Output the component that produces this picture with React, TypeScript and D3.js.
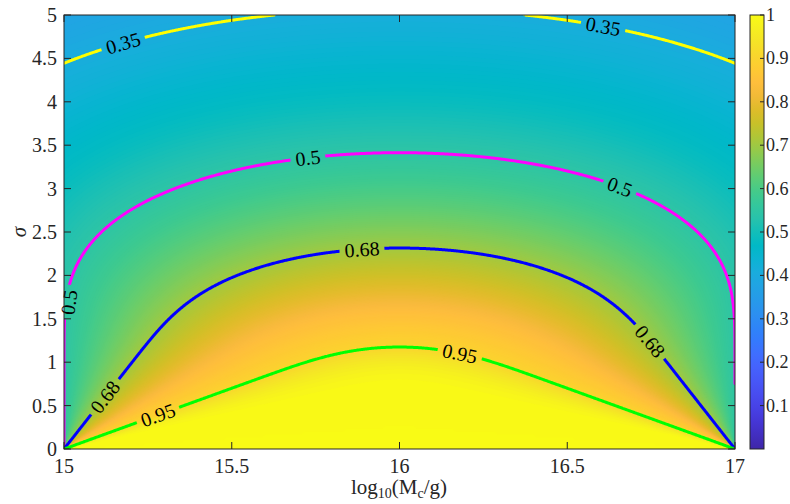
import React, { useMemo } from "react";
import * as d3 from "d3";

// ---- axes / ticks ----
const X_RANGE: [number, number] = [15, 17];
const SIGMA_RANGE: [number, number] = [0, 5];
const X_TICKS = [15, 15.5, 16, 16.5, 17];
const Y_TICKS = [0, 0.5, 1, 1.5, 2, 2.5, 3, 3.5, 4, 4.5, 5];
const CB_RANGE: [number, number] = [0, 1];
const CB_TICKS = [0.1, 0.2, 0.3, 0.4, 0.5, 0.6, 0.7, 0.8, 0.9, 1];

// ---- model: fraction of a lognormal mass function inside the window ----
const MASS_WINDOW: [number, number] = [15, 17]; // log10(M/g)

// ---- contour levels ----
const CONTOUR_LEVELS = [0.35, 0.5, 0.68, 0.95];
const CONTOUR_COLORS = ["#ffff00", "#ff00ff", "#0000ff", "#00ff00"];

// ---- contour labels (level, anchor in data coords) ----
const LABEL_LEVELS = [0.35, 0.35, 0.5, 0.5, 0.5, 0.68, 0.68, 0.68, 0.95, 0.95];
const LABEL_X: (number | null)[] = [15.176, 16.607, 15.727, 16.657, null, 15.888, 15.122, 16.747, 15.28, 16.18];
const LABEL_SIGMA: (number | null)[] = [null, null, null, null, 1.69, null, null, null, null, null];

// colour response of the shaded field (value -> colormap position)
const SHADE_IN = [0, 0.36, 0.56, 0.7, 0.85, 0.95, 1];
const SHADE_OUT = [0, 0.42, 0.6, 0.72, 0.84, 0.9, 1];

// parula colormap (64 entries)
const PARULA: number[][] = [
  [0.2422, 0.1504, 0.6603], [0.2504, 0.165, 0.7076], [0.2578, 0.1818, 0.7511], [0.2647, 0.1978, 0.7952],
  [0.2706, 0.2147, 0.8364], [0.2751, 0.2342, 0.871], [0.2783, 0.2559, 0.8991], [0.2803, 0.2782, 0.9221],
  [0.2813, 0.3006, 0.9414], [0.281, 0.3228, 0.9579], [0.2795, 0.3447, 0.9717], [0.276, 0.3667, 0.9829],
  [0.2699, 0.3892, 0.9906], [0.2602, 0.4123, 0.9952], [0.244, 0.4358, 0.9988], [0.2206, 0.4603, 0.9973],
  [0.1963, 0.4847, 0.9892], [0.1834, 0.5074, 0.9798], [0.1786, 0.5289, 0.9682], [0.1764, 0.5499, 0.952],
  [0.1687, 0.5703, 0.9359], [0.154, 0.5902, 0.9218], [0.146, 0.6091, 0.9079], [0.138, 0.6276, 0.8973],
  [0.1248, 0.6459, 0.8883], [0.1113, 0.6635, 0.8763], [0.0952, 0.6798, 0.8598], [0.0689, 0.6948, 0.8394],
  [0.0297, 0.7082, 0.8163], [0.0036, 0.7203, 0.7917], [0.0067, 0.7312, 0.766], [0.0433, 0.7411, 0.7394],
  [0.0964, 0.75, 0.712], [0.1408, 0.7584, 0.6842], [0.1717, 0.767, 0.6554], [0.1938, 0.7758, 0.6251],
  [0.2161, 0.7843, 0.5923], [0.247, 0.7918, 0.5567], [0.2906, 0.7973, 0.5188], [0.3406, 0.8008, 0.4789],
  [0.3909, 0.8029, 0.4354], [0.4456, 0.8024, 0.3909], [0.5044, 0.7993, 0.348], [0.5616, 0.7942, 0.3045],
  [0.6174, 0.7876, 0.2612], [0.672, 0.7793, 0.2227], [0.7242, 0.7698, 0.191], [0.7738, 0.7598, 0.1646],
  [0.8203, 0.7498, 0.1535], [0.8634, 0.7406, 0.1596], [0.9035, 0.733, 0.1774], [0.9393, 0.7288, 0.21],
  [0.9728, 0.7298, 0.2394], [0.9956, 0.7434, 0.2371], [0.997, 0.7659, 0.2199], [0.9952, 0.7893, 0.2028],
  [0.9892, 0.8136, 0.1885], [0.9786, 0.8386, 0.1766], [0.9676, 0.8639, 0.1643], [0.961, 0.889, 0.1537],
  [0.9597, 0.9135, 0.1423], [0.9628, 0.9373, 0.1265], [0.9691, 0.9606, 0.1064], [0.9769, 0.9839, 0.0805],
];

function parula(t: number): string {
  const u = Math.max(0, Math.min(1, (t - CB_RANGE[0]) / (CB_RANGE[1] - CB_RANGE[0]))) * (PARULA.length - 1);
  const i = Math.min(PARULA.length - 2, Math.floor(u));
  const f = u - i;
  const a = PARULA[i], b = PARULA[i + 1];
  const c = [0, 1, 2].map((k) => Math.round(255 * (a[k] + (b[k] - a[k]) * f)));
  return `rgb(${c[0]},${c[1]},${c[2]})`;
}

function erf(x: number): number {
  const s = x < 0 ? -1 : 1;
  const ax = Math.abs(x);
  const t = 1 / (1 + 0.3275911 * ax);
  const y = 1 - ((((1.061405429 * t - 1.453152027) * t + 1.421413741) * t - 0.284496736) * t + 0.254829592) * t * Math.exp(-ax * ax);
  return s * y;
}
const Phi = (z: number) => 0.5 * (1 + erf(z / Math.SQRT2));

function frac(x: number, sigma: number): number {
  const [a, b] = MASS_WINDOW;
  if (sigma <= 0) return x > a && x < b ? 1 : x === a || x === b ? 0.5 : 0;
  const s = sigma / Math.LN10;
  return Phi((b - x) / s) - Phi((a - x) / s);
}

const W = 790, H = 504;
const L = 64, R = 735, T = 15, B = 449;
const FONT = "'Liberation Serif', 'Times New Roman', Times, serif";

export default function App() {
  const xs = d3.scaleLinear().domain(X_RANGE).range([L, R]);
  const ys = d3.scaleLinear().domain(SIGMA_RANGE).range([B, T]);
  const cbY = d3.scaleLinear().domain(CB_RANGE).range([B, T]);
  const shade = d3.scaleLinear().domain(SHADE_IN).range(SHADE_OUT).clamp(true);

  const computed = useMemo(() => {
    const [X0, X1] = X_RANGE;
    const [S0, S1] = SIGMA_RANGE;
    function grid(nx: number, ny: number) {
      const vals = new Float64Array(nx * ny);
      const dx = (X1 - X0) / (nx - 1), dy = (S1 - S0) / (ny - 1);
      for (let j = 0; j < ny; j++)
        for (let i = 0; i < nx; i++) vals[j * nx + i] = frac(X0 + i * dx, S0 + j * dy);
      return { vals, nx, ny, dx, dy };
    }
    // filled field
    const gf = grid(241, 151);
    const step = 0.004;
    const thresholds = d3.range(0, 1 + 1e-9, step);
    const pf = d3.geoPath(
      d3.geoTransform({
        point(x: number, y: number) {
          (this as any).stream.point(xs(X0 + (x - 0.5) * gf.dx), ys(S0 + (y - 0.5) * gf.dy));
        },
      })
    );
    const fills = d3.contours().size([gf.nx, gf.ny]).thresholds(thresholds)(Array.from(gf.vals));
    const bands = fills.map((c) => ({ d: pf(c as any) || "", color: parula(shade(Math.min(1, c.value + step / 2))) }));

    // contour lines
    const gl = grid(801, 501);
    const lc = d3.contours().size([gl.nx, gl.ny]).thresholds(CONTOUR_LEVELS)(Array.from(gl.vals));
    const px = (x: number) => xs(X0 + (x - 0.5) * gl.dx);
    const py = (y: number) => ys(S0 + (y - 0.5) * gl.dy);
    const onB = (a: number[], b: number[]) =>
      (a[0] === b[0] && (a[0] === 0 || a[0] === gl.nx)) || (a[1] === b[1] && (a[1] === 0 || a[1] === gl.ny));
    const lines = lc.map((c, idx) => {
      let d = "";
      for (const poly of c.coordinates)
        for (const ring of poly) {
          let pen = false;
          for (let k = 1; k < ring.length; k++) {
            const a = ring[k - 1], b = ring[k];
            if (onB(a, b)) { pen = false; continue; }
            if (!pen) { d += `M${px(a[0]).toFixed(2)},${py(a[1]).toFixed(2)}`; pen = true; }
            d += `L${px(b[0]).toFixed(2)},${py(b[1]).toFixed(2)}`;
          }
        }
      return { d, color: CONTOUR_COLORS[idx] };
    });

    // labels
    const labels = LABEL_LEVELS.map((lev, i) => {
      let x: number, s: number;
      if (LABEL_X[i] != null) {
        x = LABEL_X[i] as number;
        let lo = 1e-4, hi = 20;
        for (let k = 0; k < 80; k++) {
          const m = (lo + hi) / 2;
          if (frac(x, m) > lev) lo = m; else hi = m;
        }
        s = (lo + hi) / 2;
      } else {
        s = LABEL_SIGMA[i] as number;
        let lo = X0, hi = (X0 + X1) / 2;
        for (let k = 0; k < 80; k++) {
          const m = (lo + hi) / 2;
          if (frac(m, s) < lev) lo = m; else hi = m;
        }
        x = (lo + hi) / 2;
      }
      const h = 1e-4;
      const gx = (frac(x + h, s) - frac(x - h, s)) / (2 * h) / (xs(1) - xs(0));
      const gy = (frac(x, s + h) - frac(x, s - h)) / (2 * h) / (ys(1) - ys(0));
      let ang = (Math.atan2(gx, -gy) * 180) / Math.PI;
      while (ang >= 90) ang -= 180;
      while (ang < -90) ang += 180;
      const text = String(lev);
      const fs = 20;
      const tw = fs * (0.5 * (text.length - 1) + 0.25);
      let cx = xs(x), cy = ys(s);
      if (cx < L + 5) cx = L + 5;
      return { text, cx, cy, ang, tw, fs };
    });

    return { bands, lines, labels };
  }, []);

  const tickLen = 7;
  const axisColor = "#262626";

  return (
    <svg width={W} height={H} style={{ position: "absolute", left: 0, top: 0, background: "#fff", fontFamily: FONT }}>
      <defs>
        <clipPath id="plotClip">
          <rect x={L} y={T} width={R - L} height={B - T} />
        </clipPath>
        <mask id="gapMask" maskUnits="userSpaceOnUse" x={0} y={0} width={W} height={H}>
          <rect x={0} y={0} width={W} height={H} fill="white" />
          {computed.labels.map((l, i) => (
            <rect key={i} transform={`translate(${l.cx},${l.cy}) rotate(${l.ang})`} x={-l.tw / 2 - 5} y={-l.fs * 0.45} width={l.tw + 10} height={l.fs * 0.9} fill="black" />
          ))}
        </mask>
        <linearGradient id="cbGrad" x1="0" y1="1" x2="0" y2="0">
          {d3.range(0, 1.0001, 1 / 32).map((t, i) => (
            <stop key={i} offset={t} stopColor={parula(CB_RANGE[0] + t * (CB_RANGE[1] - CB_RANGE[0]))} />
          ))}
        </linearGradient>
      </defs>

      {/* field */}
      <g clipPath="url(#plotClip)">
        {computed.bands.map((b, i) => (
          <path key={i} d={b.d} fill={b.color} stroke="none" />
        ))}
      </g>

      {/* contour lines */}
      <g clipPath="url(#plotClip)">
        <g mask="url(#gapMask)">
          {computed.lines.map((l, i) => (
            <path key={i} d={l.d} fill="none" stroke={l.color} strokeWidth={3} strokeLinejoin="round" />
          ))}
        </g>
      </g>

      {/* contour labels */}
      {computed.labels.map((l, i) => (
        <text key={i} transform={`translate(${l.cx},${l.cy}) rotate(${l.ang})`} textAnchor="middle" dominantBaseline="central" fontSize={l.fs} fill="#000">
          {l.text}
        </text>
      ))}

      {/* axes box */}
      <rect x={L} y={T} width={R - L} height={B - T} fill="none" stroke={axisColor} strokeWidth={1} />
      {X_TICKS.map((t, i) => (
        <g key={"xt" + i}>
          <line x1={xs(t)} x2={xs(t)} y1={B} y2={B - tickLen} stroke={axisColor} />
          <line x1={xs(t)} x2={xs(t)} y1={T} y2={T + tickLen} stroke={axisColor} />
          <text x={xs(t)} y={473} textAnchor="middle" fontSize={20} fill={axisColor}>{String(t)}</text>
        </g>
      ))}
      {Y_TICKS.map((t, i) => (
        <g key={"yt" + i}>
          <line x1={L} x2={L + tickLen} y1={ys(t)} y2={ys(t)} stroke={axisColor} />
          <line x1={R} x2={R - tickLen} y1={ys(t)} y2={ys(t)} stroke={axisColor} />
          <text x={57} y={ys(t)} textAnchor="end" dominantBaseline="central" fontSize={20} fill={axisColor}>{String(t)}</text>
        </g>
      ))}

      {/* axis labels */}
      <text x={399} y={494} textAnchor="middle" fontSize={21} fill={axisColor}>
        log<tspan fontSize={14} dy={4}>10</tspan>
        <tspan dy={-4}>(M</tspan>
        <tspan fontSize={14} dy={4}>c</tspan>
        <tspan dy={-4}>/g)</tspan>
      </text>
      <text transform={`translate(19,${(T + B) / 2}) rotate(-90)`} textAnchor="middle" dominantBaseline="central" fontSize={21} fontStyle="italic" fill={axisColor}>
        σ
      </text>

      {/* colorbar */}
      <rect x={750} y={T} width={14} height={B - T} fill="url(#cbGrad)" stroke={axisColor} strokeWidth={1} />
      {CB_TICKS.map((t, i) => (
        <g key={"cb" + i}>
          <line x1={764} x2={760} y1={cbY(t)} y2={cbY(t)} stroke={axisColor} />
          <text x={766} y={cbY(t)} dominantBaseline="central" fontSize={18} fill={axisColor}>{String(t)}</text>
        </g>
      ))}
    </svg>
  );
}
